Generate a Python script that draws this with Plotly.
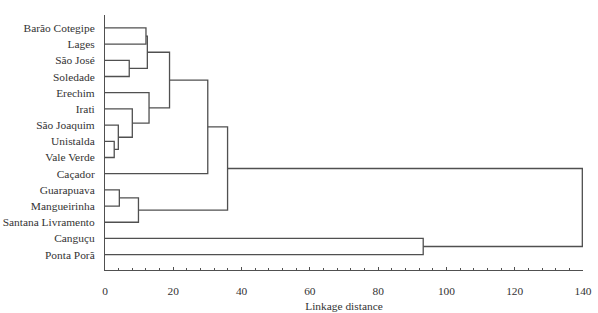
import plotly.graph_objects as go

leaves = ["Barão Cotegipe", "Lages", "São José", "Soledade", "Erechim", "Irati",
          "São Joaquim", "Unistalda", "Vale Verde", "Caçador", "Guarapuava",
          "Mangueirinha", "Santana Livramento", "Canguçu", "Ponta Porã"]

# merges: (left child, right child, linkage distance); clusters named c0, c1, ...
merge_left = ["Barão Cotegipe", "São José", "c0", "Unistalda", "São Joaquim", "Irati",
              "Erechim", "c2", "c7", "Guarapuava", "c9", "c8", "Canguçu", "c11"]
merge_right = ["Lages", "Soledade", "c1", "Vale Verde", "c3", "c4",
               "c5", "c6", "Caçador", "Mangueirinha", "Santana Livramento", "c10", "Ponta Porã", "c12"]
merge_height = [12.0, 7.1, 12.4, 2.7, 3.9, 8.0, 12.9, 18.9, 30.1, 4.2, 9.8, 35.9, 93.2, 139.8]

x_ticks = [0, 20, 40, 60, 80, 100, 120, 140]

pos = {name: (0.0, float(i)) for i, name in enumerate(leaves)}
xs, ys = [], []
for k, (a, b, h) in enumerate(zip(merge_left, merge_right, merge_height)):
    ha, ya = pos[a]
    hb, yb = pos[b]
    xs += [ha, h, h, hb, None]
    ys += [ya, ya, yb, yb, None]
    pos[f"c{k}"] = (h, (ya + yb) / 2)

line_color = "#505050"
font = dict(family="Liberation Serif, Times New Roman, serif", size=11.4, color="#333333")

fig = go.Figure()
fig.add_trace(go.Scatter(x=xs, y=ys, mode="lines",
                         line=dict(color=line_color, width=1.3),
                         hoverinfo="skip", showlegend=False))

fig.update_layout(
    width=598, height=313,
    margin=dict(l=105, r=15, t=15, b=43),
    plot_bgcolor="white", paper_bgcolor="white",
    font=font,
    showlegend=False,
)
fig.update_xaxes(
    range=[0, 140], tickvals=x_ticks, ticktext=[str(t) for t in x_ticks],
    showgrid=False, zeroline=False, automargin=False,
    showline=True, linecolor=line_color, linewidth=1,
    ticks="inside", ticklen=3, tickcolor=line_color,
    minor=dict(dtick=4, tick0=0, ticks="inside", ticklen=2, tickcolor=line_color),
    title=dict(text="Linkage distance", font=font, standoff=6),
    ticklabelstandoff=10,
)
fig.update_yaxes(
    range=[14.95, -0.8], tickvals=list(range(len(leaves))), ticktext=leaves,
    showgrid=False, zeroline=False, automargin=False,
    showline=True, linecolor=line_color, linewidth=1,
    ticks="", ticklabelstandoff=7,
)

fig.write_html("out.html")
